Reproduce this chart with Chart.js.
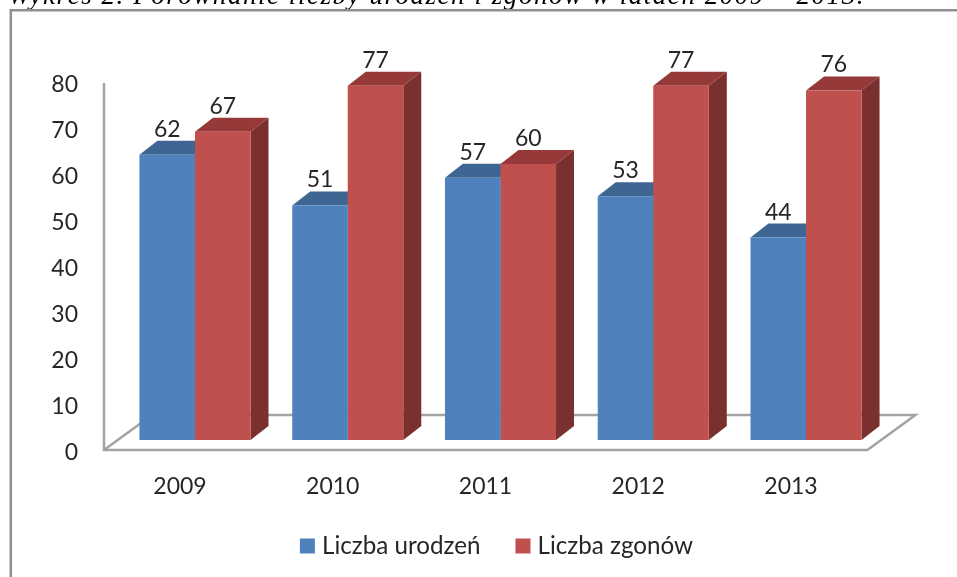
<!DOCTYPE html>
<html><head><meta charset="utf-8">
<style>html,body{margin:0;padding:0;background:#fff;overflow:hidden}#w{position:relative;width:957px;height:577px;overflow:hidden}canvas{display:block}</style>
<script src="https://cdn.jsdelivr.net/npm/chart.js@4"></script>
</head><body><div id="w"><canvas id="c" width="998" height="595" style="width:998px;height:595px"></canvas></div>
<script>
const categories = ['2009','2010','2011','2012','2013'];
const birthsLabel = 'Liczba urodzeń';
const deathsLabel = 'Liczba zgonów';
const births = [62,51,57,53,44];
const deaths = [67,77,60,77,76];
const yTicks = [0,10,20,30,40,50,60,70,80];
const titleText = 'Wykres 2. Porównanie liczby urodzeń i zgonów w latach 2009 – 2013.';

const FONT = 'Lato, Carlito, Calibri, sans-serif';
const TXT = '#262626', AXIS = '#a3a3a3';
const DX = 18, DY = 14;

const decor = {
  id:'decor',
  afterLayout(ch){ ch.scales.x.bottom += 12; },
  beforeDraw(ch){
    const c = ch.ctx; c.save();
    c.fillStyle='#fff'; c.fillRect(0,0,998,595);
    c.font='italic 27px "Liberation Serif", serif'; c.fillStyle='#000'; c.textBaseline='alphabetic'; c.textAlign='left';
    const w = c.measureText(titleText).width;
    c.letterSpacing = ((857-w)/titleText.length).toFixed(3)+'px';
    c.fillText(titleText,8,3.5);
    c.letterSpacing='0px';
    c.strokeStyle='#8f8f8f'; c.lineWidth=2.5;
    c.beginPath(); c.moveTo(10.8,595); c.lineTo(10.8,10.3); c.lineTo(998,10.3); c.stroke();
    c.restore();
  },
  beforeDatasetsDraw(ch){
    const c = ch.ctx, a = ch.chartArea, y = ch.scales.y;
    const base = y.getPixelForValue(0), top = y.getPixelForValue(80);
    const fl = a.left-14.6, fr = a.right-15, fy = base+10, by = fy-35, d = 48;
    c.save();
    c.strokeStyle=AXIS; c.lineWidth=2.5; c.lineJoin='miter';
    c.beginPath(); c.moveTo(fl,top+11); c.lineTo(fl,fy); c.lineTo(fr,fy); c.lineTo(fr+d,by); c.lineTo(fl+d,by); c.lineTo(fl,fy); c.stroke();
    [['#3f6692','#385d87'],['#953a38','#7a302e']].forEach((cols,i)=>{
      ch.getDatasetMeta(i).data.forEach(b=>{
        const l=b.x-b.width/2, r=b.x+b.width/2, t=b.y;
        c.fillStyle=cols[1];
        c.beginPath(); c.moveTo(r,t); c.lineTo(r+DX,t-DY); c.lineTo(r+DX,b.base-DY); c.lineTo(r,b.base); c.closePath(); c.fill();
        c.fillStyle=cols[0];
        c.beginPath(); c.moveTo(l,t); c.lineTo(l+DX,t-DY); c.lineTo(r+DX,t-DY); c.lineTo(r,t); c.closePath(); c.fill();
      });
    });
    c.restore();
  },
  afterDatasetsDraw(ch){
    const c = ch.ctx; c.save();
    c.font='23px '+FONT; c.fillStyle=TXT; c.textAlign='center'; c.textBaseline='middle';
    ch.data.datasets.forEach((ds,i)=>{
      ch.getDatasetMeta(i).data.forEach((b,j)=>{ c.fillText(String(ds.data[j]),b.x,b.y-25.5); });
    });
    c.restore();
  }
};

new Chart(document.getElementById('c'),{
  type:'bar',
  data:{labels:categories,datasets:[
    {label:birthsLabel,data:births,backgroundColor:'#4f81bd',borderWidth:0,yAxisID:'y'},
    {label:deathsLabel,data:deaths,backgroundColor:'#c0504d',borderWidth:0,yAxisID:'y'}
  ]},
  plugins:[decor],
  options:{
    responsive:false,animation:false,
    devicePixelRatio:1,
    categoryPercentage:0.727,barPercentage:1,
    layout:{padding:{left:0,right:0,top:72,bottom:26.9}},
    plugins:{
      tooltip:{enabled:false},
      legend:{
        position:'bottom',
        labels:{
          font:{family:FONT,size:24.2},color:TXT,boxWidth:5,boxHeight:5,padding:40,
          generateLabels(ch){
            return ch.data.datasets.map((d,i)=>({text:d.label,fillStyle:d.backgroundColor,strokeStyle:d.backgroundColor,lineWidth:10,fontColor:TXT,datasetIndex:i,hidden:false}));
          }
        }
      }
    },
    scales:{
      x:{
        grid:{display:false},border:{display:false},
        ticks:{font:{family:FONT,size:23},color:TXT,padding:24.7,labelOffset:-15,maxRotation:0},
        afterFit(s){s.height=53.9;}
      },
      y:{
        min:0,max:80,
        afterBuildTicks(s){s.ticks=yTicks.map(v=>({value:v}));},
        grid:{display:false},border:{display:false},
        ticks:{font:{family:FONT,size:23},color:TXT,padding:32.6,labelOffset:12.5},
        afterFit(s){s.width=118.6;}
      },
      yr:{
        position:'right',display:true,min:0,max:80,
        grid:{display:false},border:{display:false},ticks:{display:false},
        afterFit(s){s.width=115.6;}
      }
    }
  }
});
</script></body></html>
